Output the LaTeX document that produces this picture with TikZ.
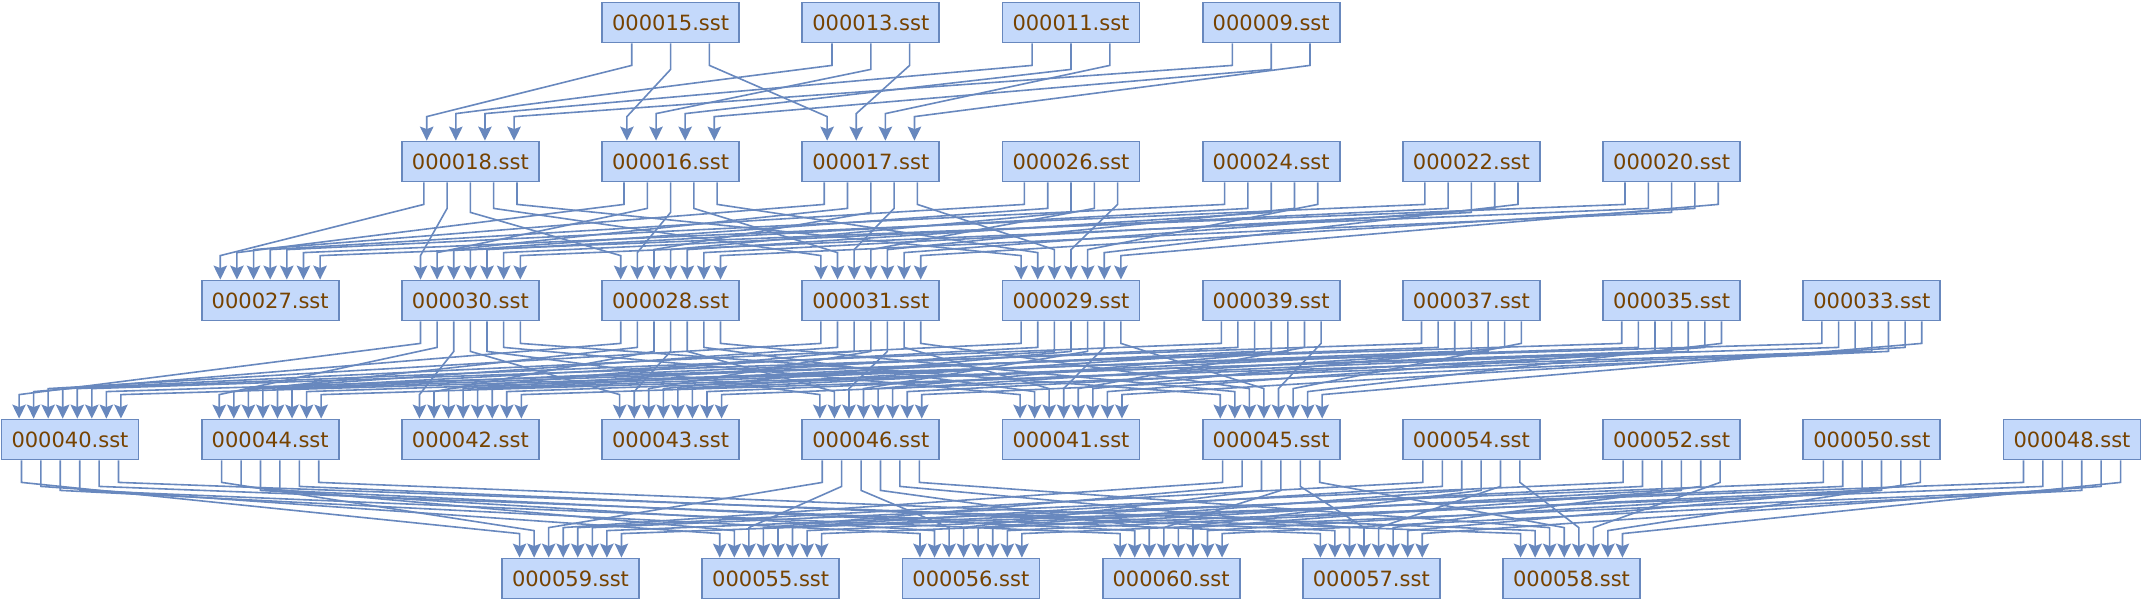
\documentclass[tikz,border=0pt]{standalone}
\usepackage{fontspec}
\setmainfont{DejaVu Sans}
\usetikzlibrary{arrows.meta,calc}
\definecolor{edgeblue}{RGB}{104,136,190}
\definecolor{boxfill}{RGB}{196,217,251}
\definecolor{txtbrown}{RGB}{118,66,0}
\tikzset{
  sst/.style={draw=edgeblue, fill=boxfill, line width=1.8pt, minimum width=137pt,
    minimum height=40pt, inner sep=0pt, text=txtbrown, font=\fontsize{21}{21}\selectfont},
  link/.style={draw=edgeblue, line width=1.6pt, -{Stealth[length=14pt,width=13.5pt,inset=2.5pt]}},
}
\newcommand\levellinks[4]{%
  \foreach \sa [count=\ia from 0] in {#1} {
    \foreach \tb [count=\jb from 0] in {#2} {
      \pgfmathsetmacro\px{(\jb-(#3-1)/2)*0.85*137/#3}
      \pgfmathsetmacro\tx{(\ia-(#4-1)/2)*0.85*137/#4}
      \pgfmathsetmacro\dA{22+4*min(min(\jb,#3-1-\jb),2)}
      \pgfmathsetmacro\dB{24+3*min(min(\ia,#4-1-\ia),2)}
      \draw[link] ($(f\sa.south)+(\px,0)$) -- ++(0,\dA)
        -- ($(f\tb.north)+(\tx,-\dB)$) -- ($(f\tb.north)+(\tx,0)$);
    }
  }
}
\begin{document}
\begin{tikzpicture}[x=1pt,y=-1pt]
\useasboundingbox (0,0) rectangle (2143,603);
% row 0
\foreach \n [count=\c from 3] in {000015,000013,000011,000009}
  \node[sst] (f\n) at ({70+200.2*\c},22.5) {\n.sst};
% row 1
\foreach \n [count=\c from 2] in {000018,000016,000017,000026,000024,000022,000020}
  \node[sst] (f\n) at ({70+200.2*\c},161.5) {\n.sst};
% row 2
\foreach \n [count=\c from 1] in {000027,000030,000028,000031,000029,000039,000037,000035,000033}
  \node[sst] (f\n) at ({70+200.2*\c},300.5) {\n.sst};
% row 3
\foreach \n [count=\c from 0] in {000040,000044,000042,000043,000046,000041,000045,000054,000052,000050,000048}
  \node[sst] (f\n) at ({70+200.2*\c},439.5) {\n.sst};
% row 4
\foreach \n [count=\c from 0] in {000059,000055,000056,000060,000057,000058}
  \node[sst] (f\n) at ({70+200.2*(\c+2.5)},578.5) {\n.sst};
% links
\levellinks{000015,000013,000011,000009}{000018,000016,000017}{3}{4}
\levellinks{000018,000016,000017,000026,000024,000022,000020}{000027,000030,000028,000031,000029}{5}{7}
\levellinks{000030,000028,000031,000029,000039,000037,000035,000033}{000040,000044,000042,000043,000046,000041,000045}{7}{8}
\levellinks{000040,000044,000046,000045,000054,000052,000050,000048}{000059,000055,000056,000060,000057,000058}{6}{8}
\end{tikzpicture}
\end{document}
